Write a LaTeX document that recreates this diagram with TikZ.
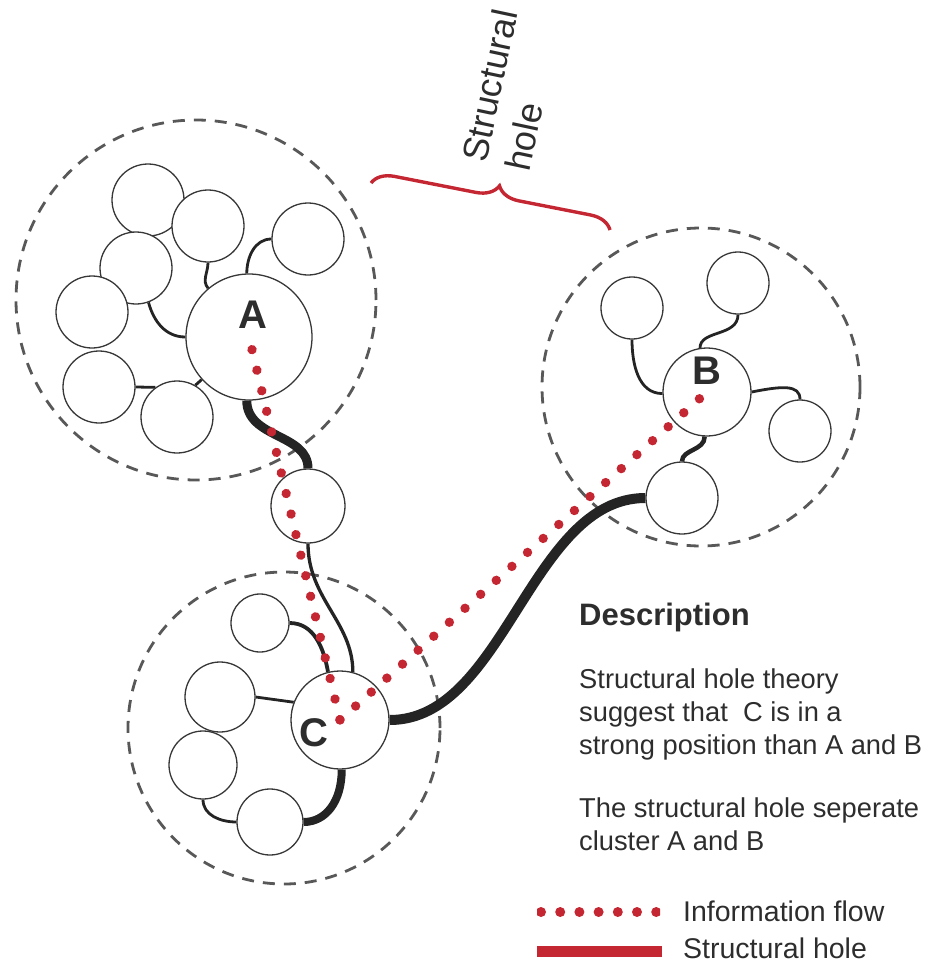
\documentclass[tikz,border=0pt]{standalone}
\usepackage{fontspec}
\setmainfont{Liberation Sans}
\usetikzlibrary{calc,backgrounds,decorations.markings,decorations.pathreplacing}

\definecolor{flowred}{RGB}{196,38,50}
\definecolor{ink}{RGB}{36,36,36}
\definecolor{hullgray}{RGB}{88,88,88}
\definecolor{rim}{RGB}{55,55,55}
\definecolor{txt}{RGB}{45,45,45}

\tikzset{
  hull/.style={circle, draw=hullgray, line width=2.8pt, dash pattern=on 12pt off 9pt,
    inner sep=0pt, minimum size=#1},
  actor/.style={circle, draw=rim, fill=white, line width=1.3pt, inner sep=0pt, minimum size=#1},
  tie/.style={draw=ink, line width=2.8pt},
  tiemid/.style={draw=ink, line width=4.5pt},
  tiethick/.style={draw=ink, line width=9pt},
  flow/.style={decorate, decoration={markings,
      mark=between positions 0 and 1 step #1 with {\fill[flowred] (0,0) circle (4.7pt);}}},
  hub/.style={font=\fontsize{40}{40}\selectfont\bfseries, text=txt, inner sep=0pt},
  heading/.style={font=\fontsize{31}{36}\selectfont\bfseries, text=txt, anchor=base west, inner sep=0pt},
  body/.style={font=\fontsize{27.3}{33}\selectfont, text=txt, anchor=base west, inner sep=0pt},
  keytext/.style={font=\fontsize{28.5}{33}\selectfont, text=txt, anchor=base west, inner sep=0pt},
  holelabel/.style={font=\fontsize{36}{42}\selectfont, text=txt, anchor=base west, inner sep=0pt, rotate=78},
}

\begin{document}
\begin{tikzpicture}[x=1pt,y=-1pt]
\useasboundingbox (0,0) rectangle (926,963);

% ---- actors: cluster A ----
\node[actor=72pt] (a1) at (148,200) {};
\node[actor=72pt] (a2) at (208,226) {};
\node[actor=72pt] (a4) at (136,268) {};
\node[actor=72pt] (a5) at (92,312) {};
\node[actor=72pt] (a3) at (308,239) {};
\node[actor=72pt] (a6) at (99,387) {};
\node[actor=72pt] (a7) at (177,417) {};
\node[actor=126pt] (A) at (249,337) {};
\node[hub] (labA) at (253,315) {A};

% ---- broker between A and C ----
\node[actor=74pt] (M) at (308,506) {};

% ---- actors: cluster C ----
\node[actor=58pt] (c1) at (260,623) {};
\node[actor=70pt] (c2) at (220,697) {};
\node[actor=68pt] (c3) at (203,765) {};
\node[actor=66pt] (c4) at (270,822) {};
\node[actor=98pt] (C) at (340,720) {};
\node[hub] (labC) at (314,733) {C};

% ---- actors: cluster B ----
\node[actor=62pt] (b1) at (632,308) {};
\node[actor=62pt] (b2) at (738,283) {};
\node[actor=62pt] (b3) at (800,431) {};
\node[actor=72pt] (b4) at (682,498) {};
\node[actor=88pt] (B) at (707,392) {};
\node[hub] (labB) at (707,371) {B};

\begin{scope}[on background layer]
  % cluster outlines
  \node[hull=360pt] (hullA) at (196,300) {};
  \node[hull=318pt] (hullB) at (701,387) {};
  \node[hull=312pt] (hullC) at (284,728) {};

  % ties inside cluster A
  \draw[tie] (a2.270) to[out=-90,in=130] (A.130);
  \draw[tie] (a3.180) to[out=180,in=90] (A.92);
  \draw[tie] (a4.-70) to[out=-75,in=180] (A.180);
  \draw[tie] (a6.0) -- (a7.126);
  \draw[tie] (a7.60) -- (A.222);

  % A -- broker -- C
  \draw[tiethick] (A.268) .. controls +(0,38) and +(0,-35) .. (M.90);
  \draw[tie, line width=3.3pt] (M.270) .. controls +(0,55) and +(0,-50) .. (C.75);

  % ties inside cluster C
  \draw[tie, line width=3.8pt] (c1.0) to[out=0,in=100] (C.104);
  \draw[tie] (c2.0) -- (C.159);
  \draw[tie] (c3.-90) to[out=-90,in=180] (c4.180);
  \draw[tiethick, line width=8pt] (C.-88) .. controls +(0,32) and +(22,0) .. (c4.0);

  % C -- B bridge
  \draw[tiethick, line width=10pt] (C.0) .. controls +(115,0) and +(-115,0) .. (b4.180);

  % ties inside cluster B
  \draw[tie] (b1.270) to[out=-90,in=180] (B.182);
  \draw[tie] (b2.270) .. controls +(0,22) and +(0,-18) .. (B.99);
  \draw[tie] (B.0) .. controls +(30,-6) and +(0,-15) .. (b3.90);
  \draw[tiemid] (B.-93) .. controls +(0,14) and +(0,-12) .. (b4.90);
\end{scope}

% information flow
\path[flow=0.0555] ($(A.center)!13pt!(C.center)$) -- (C.center);
\path[flow=0.04347] (C.center) -- ($(B.center)!10pt!(C.center)$);

% structural hole brace and label
\coordinate (gapL) at (371,183);
\coordinate (gapR) at (610,230);
\draw[flowred, line width=3.4pt, decorate, decoration={brace, amplitude=22pt, aspect=0.52}] (gapL) -- (gapR);
\node[holelabel] (holeT1) at (486,164) {Structural};
\node[holelabel] (holeT2) at (529,173) {hole};

% description
\node[heading] (descT) at (579,625) {Description};
\node[body] (d1) at (579,688) {Structural hole theory};
\node[body] (d2) at (579,721) {suggest that\ \ C is in a};
\node[body] (d3) at (579,754) {strong position than A and B};
\node[body] (d4) at (579,817) {The structural hole seperate};
\node[body] (d5) at (579,850) {cluster A and B};

% legend
\coordinate (keyflowL) at (537,912);
\coordinate (keyflowR) at (660,912);
\begin{scope}
  \clip (537,895) rectangle (660,930);
  \draw[flowred, line width=10pt, line cap=round, dash pattern=on 0pt off 19.2pt, dash phase=15.2pt]
    (keyflowL) -- (keyflowR);
\end{scope}
\coordinate (keyholeL) at (537,951.5);
\coordinate (keyholeR) at (662,951.5);
\draw[flowred, line width=11pt] (keyholeL) -- (keyholeR);
\node[keytext] (keyflowT) at (683,921) {Information flow};
\node[keytext] (keyholeT) at (683,958) {Structural hole};
\end{tikzpicture}
\end{document}
